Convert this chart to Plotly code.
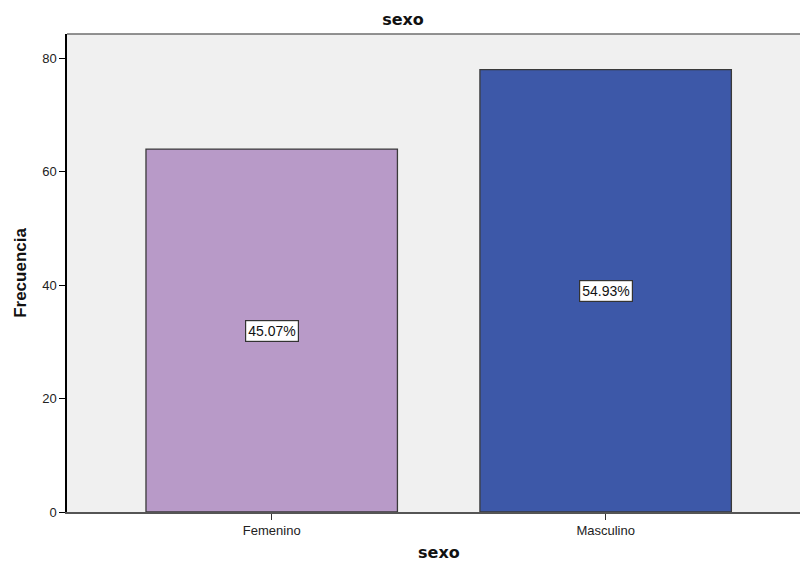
import plotly.graph_objects as go

categories = ["Femenino", "Masculino"]
counts = [64, 78]
percent_labels = ["45.07%", "54.93%"]
bar_colors = ["#B89AC8", "#3D58A8"]

BODY_FONT = "Liberation Sans, Arial"
TITLE_FONT = "DejaVu Sans, Verdana"

fig = go.Figure()
fig.add_trace(go.Bar(
    x=categories,
    y=counts,
    width=0.753,
    marker=dict(color=bar_colors, line=dict(color="#3a3a3a", width=1.3)),
    hoverinfo="x+y",
))

# percentage boxes at half the bar height
for cat, val, lab in zip(categories, counts, percent_labels):
    fig.add_annotation(
        x=cat, y=val / 2, text=lab, showarrow=False,
        font=dict(family=BODY_FONT, size=14, color="#111111"),
        bgcolor="white", bordercolor="#333333", borderwidth=1.2, borderpad=2,
    )

# top border of the plot area
fig.add_shape(type="line", xref="paper", yref="paper", x0=0, x1=1, y0=1, y1=1,
              line=dict(color="#6e6e6e", width=1.5))

# x-axis title
fig.add_annotation(
    xref="paper", yref="paper", x=(439 - 67) / 733, y=-(552 - 512) / 478,
    text="<b>sexo</b>", showarrow=False, xanchor="center", yanchor="middle",
    font=dict(family=TITLE_FONT, size=16, color="#111111"),
)

fig.update_layout(
    width=800, height=562,
    margin=dict(l=67, r=0, t=34, b=50),
    paper_bgcolor="white",
    plot_bgcolor="#F0F0F0",
    showlegend=False,
    font=dict(family=BODY_FONT, size=13, color="#222222"),
    title=dict(text="<b>sexo</b>", x=403 / 800, xanchor="center",
               y=1 - 19 / 562, yanchor="middle",
               font=dict(size=16, family=TITLE_FONT, color="#111111")),
)
fig.update_xaxes(
    type="category", range=[-0.613, 1.582],
    showgrid=False, zeroline=False,
    showline=True, linecolor="#555555", linewidth=1.5,
    ticks="outside", ticklen=6, tickcolor="#333333",
    tickfont=dict(size=13, color="#222222"),
)
fig.update_yaxes(
    range=[0, 84.3], tickvals=[0, 20, 40, 60, 80],
    showgrid=False, zeroline=False,
    showline=True, linecolor="black", linewidth=1.5,
    ticks="outside", ticklen=6, tickcolor="black",
    tickfont=dict(size=13, color="#222222"),
    title=dict(text="<b>Frecuencia</b>",
               font=dict(size=17, family=BODY_FONT, color="#111111"), standoff=11),
)

fig.write_html("out.html")
